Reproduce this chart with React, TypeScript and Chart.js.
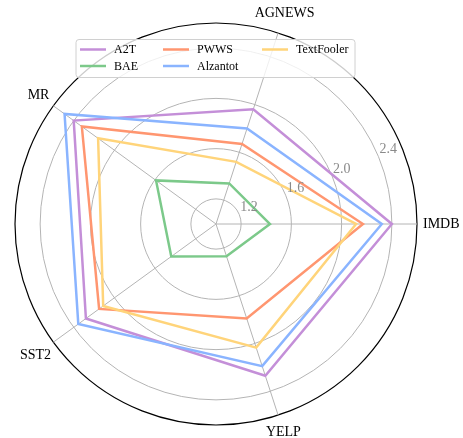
import { useEffect, useRef } from 'react';
import { Chart, registerables } from 'chart.js';

Chart.register(...registerables);

// Axes listed clockwise starting from the right-hand (IMDB) spoke.
const categories = ['IMDB', 'YELP', 'SST2', 'MR', 'AGNEWS'];

const a2t = [2.4, 2.27, 2.28, 2.4, 1.96];
const bae = [1.43, 1.27, 1.44, 1.59, 1.34];
const pwws = [2.17, 1.79, 2.15, 2.32, 1.67];
const alzantot = [2.32, 2.19, 2.355, 2.49, 1.8];
const textFooler = [2.115, 2.035, 2.11, 2.16, 1.52];

const radialTicks = [1.2, 1.6, 2.0, 2.4];
const rMin = 1.0;
const rMax = 2.6;

const seriesNames = ['A2T', 'BAE', 'PWWS', 'Alzantot', 'TextFooler'];
const seriesValues = [a2t, bae, pwws, alzantot, textFooler];
const seriesColors = ['#c48fd8', '#7cc98a', '#ff9670', '#8ab4ff', '#ffd47a'];

const SERIF = '"Liberation Serif", "Times New Roman", serif';

const decorPlugin = {
  id: 'polarDecor',
  afterDraw(chart: any) {
    const ctx = chart.ctx as CanvasRenderingContext2D;
    const scale = chart.scales.r;
    const cx = scale.xCenter;
    const cy = scale.yCenter;

    ctx.save();

    // radial tick labels along the 22.5° ray
    const a = (22.5 * Math.PI) / 180;
    ctx.font = `14px ${SERIF}`;
    ctx.fillStyle = '#8a8a8a';
    ctx.textAlign = 'left';
    ctx.textBaseline = 'bottom';
    radialTicks.forEach((v) => {
      const d = scale.getDistanceFromCenterForValue(v);
      ctx.fillText(v.toFixed(1), cx + d * Math.cos(a) + 1, cy - d * Math.sin(a));
    });

    // category labels outside the frame, padded so the text box clears the rim
    ctx.font = `14px ${SERIF}`;
    ctx.fillStyle = '#000';
    ctx.textAlign = 'center';
    ctx.textBaseline = 'middle';
    categories.forEach((label, i) => {
      const dir = scale.getPointPosition(i, 1);
      const ux = dir.x - cx;
      const uy = dir.y - cy;
      const halfW = ctx.measureText(label).width / 2;
      const off = 6 + Math.abs(ux) * halfW + Math.abs(uy) * 6;
      const p = scale.getPointPosition(i, scale.drawingArea + off);
      ctx.fillText(label, p.x, p.y + 0.5);
    });

    // legend box
    const bx = 76;
    const by = 39.5;
    const bw = 279;
    const bh = 38;
    ctx.beginPath();
    ctx.roundRect(bx, by, bw, bh, 3);
    ctx.fillStyle = 'rgba(255,255,255,0.8)';
    ctx.fill();
    ctx.strokeStyle = '#d0d0d0';
    ctx.lineWidth = 1;
    ctx.stroke();

    const colX = [80, 163, 262];
    const rowY = [49.5, 66];
    ctx.font = `12px ${SERIF}`;
    ctx.textAlign = 'left';
    ctx.textBaseline = 'middle';
    chart.data.datasets.forEach((ds: any, i: number) => {
      const col = Math.floor(i / 2);
      const row = i % 2;
      const x = colX[col];
      const y = rowY[row];
      ctx.beginPath();
      ctx.moveTo(x, y);
      ctx.lineTo(x + 26, y);
      ctx.strokeStyle = ds.borderColor;
      ctx.lineWidth = 2.5;
      ctx.stroke();
      ctx.fillStyle = '#000';
      ctx.fillText(ds.label, x + 34, y + 0.5);
    });

    ctx.restore();
  },
};

export default function App() {
  const canvasRef = useRef<HTMLCanvasElement | null>(null);

  useEffect(() => {
    const canvas = canvasRef.current;
    if (!canvas) return;
    const chart = new Chart(canvas, {
      type: 'radar',
      data: {
        labels: categories,
        datasets: seriesNames.map((name, i) => ({
          label: name,
          data: seriesValues[i],
          borderColor: seriesColors[i],
          backgroundColor: 'transparent',
          borderWidth: 2.5,
          borderJoinStyle: 'miter' as const,
          pointRadius: 0,
          fill: false,
          tension: 0,
          order: seriesNames.length - i,
        })),
      },
      options: {
        animation: false,
        responsive: true,
        maintainAspectRatio: false,
        events: [],
        layout: { padding: { left: 15, right: 46, top: 23, bottom: 13 } },
        plugins: {
          legend: { display: false },
          tooltip: { enabled: false },
        },
        scales: {
          r: {
            min: rMin,
            max: rMax,
            startAngle: 90,
            afterBuildTicks: (scale: any) => {
              scale.ticks = [rMin, ...radialTicks, rMax].map((v) => ({ value: v }));
            },
            ticks: { display: false },
            pointLabels: { display: false },
            grid: {
              circular: true,
              color: (c: any) => (c.tick && c.tick.value >= rMax ? '#000000' : '#b4b4b4'),
              lineWidth: (c: any) => (c.tick && c.tick.value >= rMax ? 1.2 : 1),
            },
            angleLines: { color: '#b4b4b4', lineWidth: 1 },
          },
        },
      },
      plugins: [decorPlugin],
    });
    return () => chart.destroy();
  }, []);

  return (
    <div style={{ position: 'absolute', left: 0, top: 0, width: 463, height: 438, background: '#fff' }}>
      <canvas ref={canvasRef} />
    </div>
  );
}
